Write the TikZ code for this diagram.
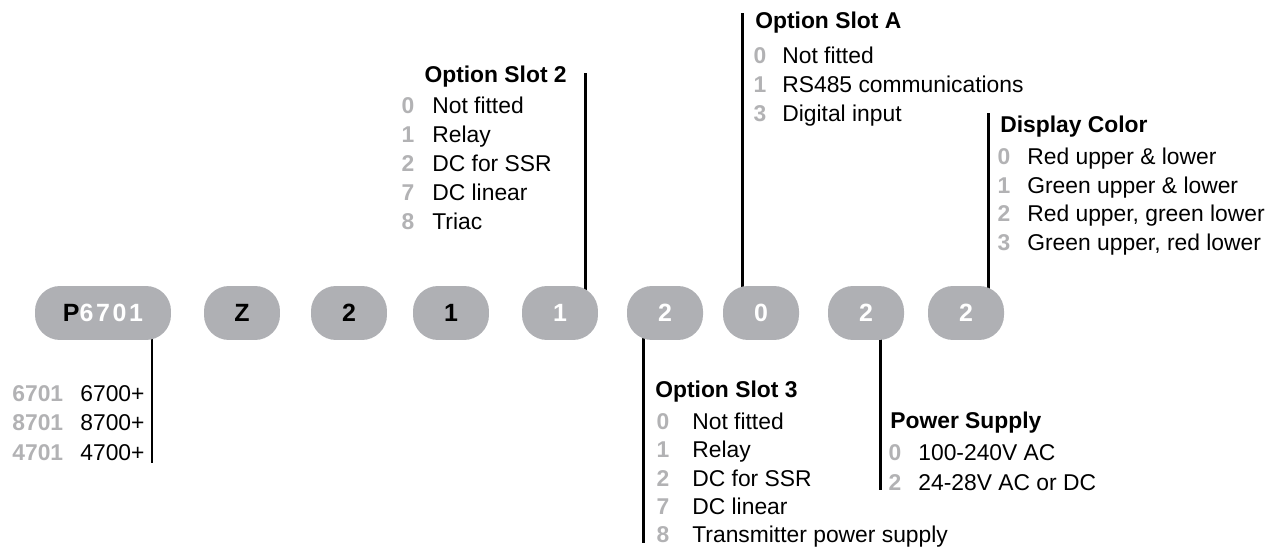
\documentclass[tikz,border=0pt]{standalone}
\usepackage{fontspec}
\setmainfont{Liberation Sans}
\usetikzlibrary{backgrounds}
\definecolor{pillgray}{RGB}{175,176,180}
\definecolor{codegray}{RGB}{178,178,180}
\tikzset{
pill/.style={rounded corners=0.5cm,fill=pillgray,minimum width=1.52cm,minimum height=1.08cm,inner sep=0pt,font=\fontsize{14.2}{17}\selectfont\bfseries},
lead/.style={line width=1.7pt},
head/.style={anchor=base west,inner sep=0pt,font=\fontsize{13}{15}\selectfont\bfseries},
code/.style={anchor=base,inner sep=0pt,text=codegray,font=\fontsize{13}{15}\selectfont\bfseries},
item/.style={anchor=base west,inner sep=0pt,font=\fontsize{13}{15}\selectfont}}

\begin{document}
\begin{tikzpicture}[x=0.02cm,y=-0.02cm]
\useasboundingbox (0,0) rectangle (1278,550);

% code pills
\node[pill,minimum width=2.72cm] (pmodel) at (103,313) {P\textcolor{white}{6\kern1.5pt7\kern1.5pt0\kern1.5pt1}};
\node[pill] (pz) at (242,313) {Z};
\node[pill] (pa) at (349,313) {2};
\node[pill] (pb) at (451,313) {1};
\node[pill,text=white] (pslottwo) at (560,313) {1};
\node[pill,text=white] (pslotthree) at (665,313) {2};
\node[pill,text=white] (pslota) at (761,313) {0};
\node[pill,text=white] (ppower) at (866,313) {2};
\node[pill,text=white] (pdisplay) at (966,313) {2};

% lead lines
\coordinate (mend) at (152,463);
\coordinate (s2end) at (585,73);
\coordinate (s3end) at (643,543);
\coordinate (saend) at (742,13);
\coordinate (pwend) at (880,490);
\coordinate (dcend) at (988,113);
\begin{scope}[on background layer]
\draw[lead] (mend |- pmodel.center) -- (mend);
\draw[lead] (s2end |- pslottwo.center) -- (s2end);
\draw[lead] (s3end |- pslotthree.center) -- (s3end);
\draw[lead] (saend |- pslota.center) -- (saend);
\draw[lead] (pwend |- ppower.center) -- (pwend);
\draw[lead] (dcend |- pdisplay.center) -- (dcend);
\end{scope}

% model
\foreach \c/\t [count=\i from 0] in {6701/6700+,8701/8700+,4701/4700+}{
  \node[code,anchor=base west] (mc\i) at (12,401+29.5*\i) {\c};
  \node[item] (mt\i) at (80,401+29.5*\i) {\t};
}

% option slot 2
\node[head,anchor=base east] (s2head) at (567,83) {Option Slot 2};
\foreach \c/\t [count=\i from 0] in {0/Not fitted,1/Relay,2/DC for SSR,7/DC linear,8/Triac}{
  \node[code] (s2c\i) at (408,114+29*\i) {\c};
  \node[item] (s2t\i) at (432,114+29*\i) {\t};
}

% option slot A
\node[head] (sahead) at (755,29) {Option Slot A};
\foreach \c/\t [count=\i from 0] in {0/Not fitted,1/RS485 communications,3/Digital input}{
  \node[code] (sac\i) at (760,64+29*\i) {\c};
  \node[item] (sat\i) at (782,64+29*\i) {\t};
}

% display color
\node[head] (dchead) at (1000,133) {Display Color};
\foreach \c/\t [count=\i from 0] in {0/Red upper \& lower,1/Green upper \& lower,2/{Red upper, green lower},3/{Green upper, red lower}}{
  \node[code] (dcc\i) at (1004,165+28.5*\i) {\c};
  \node[item] (dct\i) at (1027,165+28.5*\i) {\t};
}

% option slot 3
\node[head] (s3head) at (655,398) {Option Slot 3};
\foreach \c/\t [count=\i from 0] in {0/Not fitted,1/Relay,2/DC for SSR,7/DC linear,8/Transmitter power supply}{
  \node[code] (s3c\i) at (663,430+28*\i) {\c};
  \node[item] (s3t\i) at (692,430+28*\i) {\t};
}

% power supply
\node[head] (pwhead) at (890,429) {Power Supply};
\foreach \c/\t [count=\i from 0] in {0/100-240V AC,2/24-28V AC or DC}{
  \node[code] (pwc\i) at (895,460+30*\i) {\c};
  \node[item] (pwt\i) at (918,460+30*\i) {\t};
}
\end{tikzpicture}
\end{document}
